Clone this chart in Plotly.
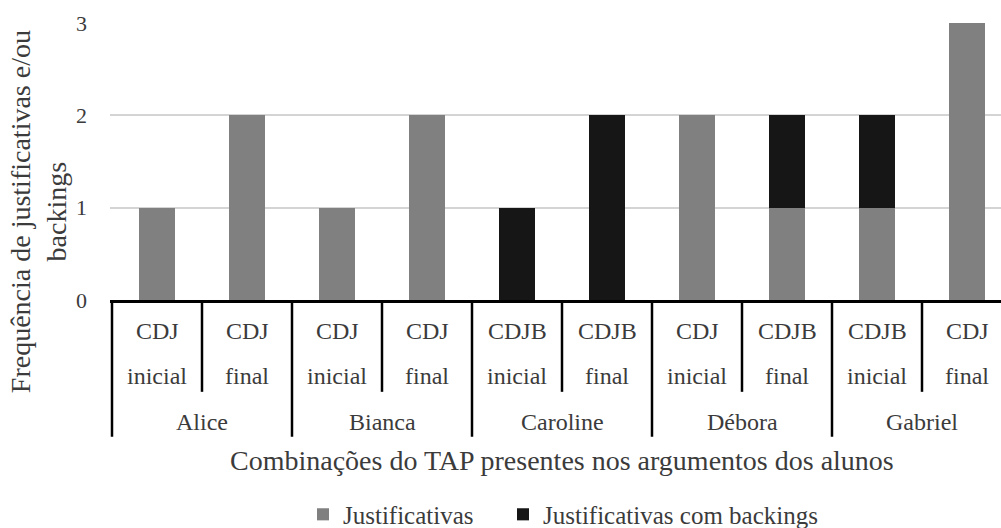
import plotly.graph_objects as go

# Students, TAP combinations and moment of each argument (one bar each)
alunos = ["Alice", "Bianca", "Caroline", "Débora", "Gabriel"]
combinacoes = ["CDJ", "CDJ", "CDJ", "CDJ", "CDJB", "CDJB", "CDJ", "CDJB", "CDJB", "CDJ"]
momentos = ["inicial", "final", "inicial", "final", "inicial",
            "final", "inicial", "final", "inicial", "final"]

# Frequencies per bar
justificativas = [1, 2, 1, 2, 0, 0, 2, 1, 1, 3]
com_backings = [0, 0, 0, 0, 1, 2, 0, 1, 1, 0]

FONT = "Liberation Serif"
TXT = "#3b3b3b"
posicoes = list(range(len(combinacoes)))

fig = go.Figure()
fig.add_trace(go.Bar(x=posicoes, y=justificativas, name="Justificativas", showlegend=True,
                     marker=dict(color="#808080", line=dict(width=0)), legend="legend"))
fig.add_trace(go.Bar(x=posicoes, y=com_backings, name="Justificativas com backings",
                     showlegend=True,
                     marker=dict(color="#161616", line=dict(width=0)), legend="legend2"))

# plot-area geometry used to place the hierarchical category labels
TOP_PX, ZERO_PX = 22.5, 300.0
H = ZERO_PX - TOP_PX
LEFT_PX, PLOT_W = 110, 891


def py(px):
    return (ZERO_PX - px) / H


def px_x(px):
    return (px - LEFT_PX) / PLOT_W


def label(x, y, text, size=24, xref="x", **kw):
    return dict(x=x, y=y, xref=xref, yref="paper", text=text, showarrow=False,
                xanchor="center", yanchor="middle",
                font=dict(family=FONT, size=size, color=TXT), **kw)


annotations = []
for i, (c, m) in enumerate(zip(combinacoes, momentos)):
    annotations.append(label(i, py(331), c))
    annotations.append(label(i, py(376), m))
for k, nome in enumerate(alunos):
    annotations.append(label(2 * k + 0.5, py(422), nome))

# axis titles
annotations.append(label((len(combinacoes) - 1) / 2, py(461),
                         "Combinações do TAP presentes nos argumentos dos alunos", size=28))
annotations.append(label(px_x(38), py(212),
                         "Frequência de justificativas e/ou<br>backings", size=28,
                         xref="paper", textangle=-90))

# separators of the category table below the axis
shapes = []
for k in range(len(alunos)):
    shapes.append(dict(type="line", xref="x", yref="paper", x0=2 * k + 0.5, x1=2 * k + 0.5,
                       y0=0, y1=py(392), line=dict(color="#000000", width=2.5)))
for k in range(len(alunos) + 1):
    shapes.append(dict(type="line", xref="x", yref="paper", x0=2 * k - 0.5, x1=2 * k - 0.5,
                       y0=0, y1=py(437), line=dict(color="#000000", width=2.5)))

legend_style = dict(orientation="h", xanchor="left", y=py(515), yanchor="middle",
                    font=dict(family=FONT, size=25, color=TXT), bgcolor="rgba(0,0,0,0)")

x_left = -0.5 - 2 / 90
fig.update_layout(
    width=1001, height=528,
    margin=dict(l=LEFT_PX, r=0, t=TOP_PX, b=528 - ZERO_PX, autoexpand=False),
    plot_bgcolor="white", paper_bgcolor="white",
    barmode="stack", bargap=0.61, showlegend=True,
    font=dict(family=FONT, color=TXT),
    xaxis=dict(range=[x_left, x_left + PLOT_W / 90], showticklabels=False, showgrid=False,
               zeroline=False, showline=True, linecolor="#000000", linewidth=2.5,
               ticks=""),
    yaxis=dict(range=[0, 3], dtick=1, showgrid=True, gridcolor="#d4d4d4", gridwidth=2,
               zeroline=False, showline=False, ticks="", ticklabelstandoff=22,
               tickfont=dict(family=FONT, size=22, color=TXT)),
    legend=dict(x=px_x(303), **legend_style),
    legend2=dict(x=px_x(503), **legend_style),
    annotations=annotations,
    shapes=shapes,
)

fig.write_html("out.html")
